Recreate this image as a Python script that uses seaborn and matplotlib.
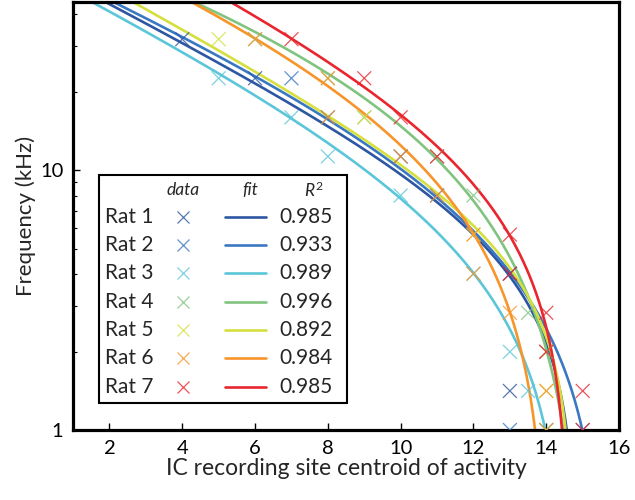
import numpy as np
import pandas as pd
import matplotlib
matplotlib.use("Agg")
import matplotlib.pyplot as plt
import seaborn as sns
from matplotlib.lines import Line2D
from matplotlib.patches import Rectangle

sns.set_theme(style="white")
plt.rcParams["font.family"] = ["Lato", "DejaVu Sans"]
plt.rcParams["mathtext.fontset"] = "custom"
plt.rcParams["mathtext.it"] = "Lato:italic"
plt.rcParams["mathtext.rm"] = "Lato"

rats = ["Rat 1", "Rat 2", "Rat 3", "Rat 4", "Rat 5", "Rat 6", "Rat 7"]
colors = ["#2d56a3", "#3a78c2", "#5bc6d9", "#80c47f", "#d5e03f", "#f7952b", "#e9262e"]
r_squared = ["0.985", "0.933", "0.989", "0.996", "0.892", "0.984", "0.985"]

# recording-site centroids (site) for each tone frequency (kHz)
site_1 = [4, 6, 10, 13, 13]
freq_1 = [32, 22.63, 11.31, 4, 1.414]
site_2 = [7, 8, 11, 14, 13, 15]
freq_2 = [22.63, 16, 8, 2, 1, 1]
site_3 = [5, 7, 8, 10, 12, 13, 13.5, 14]
freq_3 = [22.63, 16, 11.31, 8, 4, 2, 1.414, 1]
site_4 = [6, 8, 9, 11, 12, 13.5, 14]
freq_4 = [32, 22.63, 16, 11.31, 8, 2.828, 1]
site_5 = [5, 9, 12, 14, 14]
freq_5 = [32, 16, 5.657, 2, 1.414]
site_6 = [6, 8, 8, 10, 11, 12, 12, 13, 14, 14]
freq_6 = [32, 22.63, 16, 11.31, 8, 5.657, 4, 2.828, 1.414, 1]
site_7 = [7, 9, 10, 11, 13, 13, 14, 14, 15, 15]
freq_7 = [32, 22.63, 16, 11.31, 5.657, 4, 2.828, 2, 1.414, 1]

sites = [site_1, site_2, site_3, site_4, site_5, site_6, site_7]
freqs = [freq_1, freq_2, freq_3, freq_4, freq_5, freq_6, freq_7]

# Greenwood-type fit per rat: f = B * (10**(a*(x0 - x)) - 1)**p
fit_a = [0.1112, 0.0685, 0.0840, 0.0278, 0.1247, 0.0607, 0.0898]
fit_x0 = [14.831, 15.648, 14.564, 15.037, 14.734, 14.059, 14.638]
fit_p = [0.642, 0.899, 0.834, 1.157, 0.608, 0.944, 0.775]
fit_B = [5.4302, 7.3084, 5.8191, 45.2691, 5.4974, 16.0932, 11.3122]

rows = []
for r, s, f in zip(rats, sites, freqs):
    for si, fi in zip(s, f):
        rows.append((r, si, fi))
pts = pd.DataFrame(rows, columns=["rat", "site", "freq"])

# evaluate each fitted curve along frequency (inverse form gives site)
fgrid = np.geomspace(0.9, 50, 400)
curves = []
for r, a, x0, p, B in zip(rats, fit_a, fit_x0, fit_p, fit_B):
    xs = x0 - np.log10((fgrid / B) ** (1 / p) + 1) / a
    curves.append(pd.DataFrame({"rat": r, "site": xs, "freq": fgrid}))
curves = pd.concat(curves)

fig = plt.figure(figsize=(6.35, 5.0), dpi=100)
ax = fig.add_axes([0.115, 0.14, 0.86, 0.856])
pal = dict(zip(rats, colors))

sns.lineplot(data=curves, x="site", y="freq", hue="rat", palette=pal, sort=False,
             estimator=None, legend=False, lw=1.9, ax=ax)
sns.scatterplot(data=pts, x="site", y="freq", hue="rat", palette=pal, marker="x",
                s=100, linewidth=0.9, alpha=0.8, legend=False, ax=ax, zorder=3)

ax.set_yscale("log")
ax.set_xlim(1, 16)
ax.set_ylim(1, 44.5)
ax.set_xticks(range(2, 17, 2))
ax.set_yticks([1, 10])
ax.set_yticklabels(["1", "10"])
ax.yaxis.set_minor_locator(matplotlib.ticker.LogLocator(base=10, subs=np.arange(2, 10)))
ax.yaxis.set_minor_formatter(matplotlib.ticker.NullFormatter())
ax.tick_params(axis="both", which="both", direction="in", labelsize=14.5, colors="black",
               bottom=True, left=True, top=False, right=False)
ax.tick_params(axis="both", which="major", length=5, width=1, pad=7)
ax.tick_params(axis="y", which="minor", length=3, width=0.8)
for sp in ax.spines.values():
    sp.set_linewidth(2.3)
    sp.set_color("black")
ax.set_xlabel("IC recording site centroid of activity", fontsize=16.5, labelpad=1)
ax.set_ylabel("Frequency (kHz)", fontsize=16, labelpad=3)

# table-style key: data marker, fit line and R^2 per rat
T = ax.transAxes
ax.add_patch(Rectangle((0.0476, 0.063), 0.4544, 0.533, transform=T, fill=False,
                       lw=1.5, ec="black", zorder=5))
hy = 0.561
ax.text(0.201, hy, "data", transform=T, ha="center", va="center", fontsize=12.5, style="italic")
ax.text(0.324, hy, "fit", transform=T, ha="center", va="center", fontsize=12.5, style="italic")
ax.text(0.441, hy, r"$R^{2}$", transform=T, ha="center", va="center", fontsize=12.5)
for i, (r, c, v) in enumerate(zip(rats, colors, r_squared)):
    y = 0.498 - i * 0.0661
    ax.text(0.0586, y, r, transform=T, ha="left", va="center", fontsize=15)
    ax.add_line(Line2D([0.202], [y], transform=T, marker="x", ms=9, mew=0.9, color=c,
                       alpha=0.8, ls=""))
    ax.add_line(Line2D([0.278, 0.353], [y, y], transform=T, lw=1.9, color=c))
    ax.text(0.476, y, v, transform=T, ha="right", va="center", fontsize=15)

fig.savefig("out.png", dpi=100)
